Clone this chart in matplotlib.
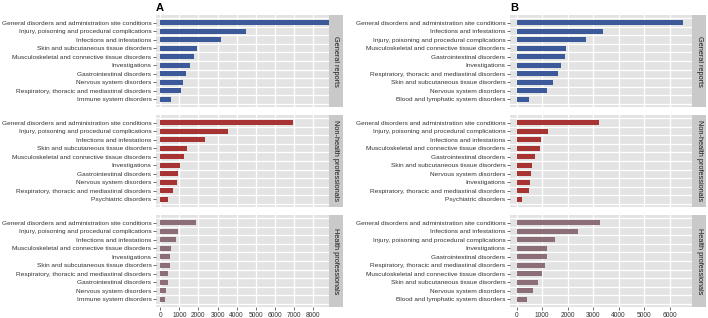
import matplotlib
matplotlib.use("Agg")
import matplotlib.pyplot as plt

plt.rcParams['font.family'] = ['Liberation Sans', 'DejaVu Sans']

# Panel A data (top to bottom in each facet)
a_gen_labels = ["General disorders and administration site conditions",
                "Injury, poisoning and procedural complications",
                "Infections and infestations",
                "Skin and subcutaneous tissue disorders",
                "Musculoskeletal and connective tissue disorders",
                "Investigations",
                "Gastrointestinal disorders",
                "Nervous system disorders",
                "Respiratory, thoracic and mediastinal disorders",
                "Immune system disorders"]
a_gen_values = [8840, 4480, 3190, 1930, 1790, 1570, 1330, 1190, 1070, 570]

a_non_labels = ["General disorders and administration site conditions",
                "Injury, poisoning and procedural complications",
                "Infections and infestations",
                "Skin and subcutaneous tissue disorders",
                "Musculoskeletal and connective tissue disorders",
                "Investigations",
                "Gastrointestinal disorders",
                "Nervous system disorders",
                "Respiratory, thoracic and mediastinal disorders",
                "Psychiatric disorders"]
a_non_values = [6930, 3550, 2340, 1400, 1220, 1050, 930, 900, 640, 400]

a_hp_labels = ["General disorders and administration site conditions",
               "Injury, poisoning and procedural complications",
               "Infections and infestations",
               "Musculoskeletal and connective tissue disorders",
               "Investigations",
               "Skin and subcutaneous tissue disorders",
               "Respiratory, thoracic and mediastinal disorders",
               "Gastrointestinal disorders",
               "Nervous system disorders",
               "Immune system disorders"]
a_hp_values = [1845, 930, 830, 570, 530, 520, 410, 395, 290, 260]

# Panel B data
b_gen_labels = ["General disorders and administration site conditions",
                "Infections and infestations",
                "Injury, poisoning and procedural complications",
                "Musculoskeletal and connective tissue disorders",
                "Gastrointestinal disorders",
                "Investigations",
                "Respiratory, thoracic and mediastinal disorders",
                "Skin and subcutaneous tissue disorders",
                "Nervous system disorders",
                "Blood and lymphatic system disorders"]
b_gen_values = [6510, 3380, 2740, 1920, 1910, 1730, 1610, 1430, 1195, 480]

b_non_labels = ["General disorders and administration site conditions",
                "Injury, poisoning and procedural complications",
                "Infections and infestations",
                "Musculoskeletal and connective tissue disorders",
                "Gastrointestinal disorders",
                "Skin and subcutaneous tissue disorders",
                "Nervous system disorders",
                "Investigations",
                "Respiratory, thoracic and mediastinal disorders",
                "Psychiatric disorders"]
b_non_values = [3230, 1230, 975, 935, 715, 600, 560, 520, 495, 220]

b_hp_labels = ["General disorders and administration site conditions",
               "Infections and infestations",
               "Injury, poisoning and procedural complications",
               "Investigations",
               "Gastrointestinal disorders",
               "Respiratory, thoracic and mediastinal disorders",
               "Musculoskeletal and connective tissue disorders",
               "Skin and subcutaneous tissue disorders",
               "Nervous system disorders",
               "Blood and lymphatic system disorders"]
b_hp_values = [3260, 2390, 1510, 1195, 1195, 1105, 990, 830, 625, 390]

facet_names = ["General reports", "Non-health professionals", "Health professionals"]
facet_colors = ["#3C5A99", "#A83333", "#8C6E77"]

W, H = 708, 318
fig = plt.figure(figsize=(W / 100, H / 100), dpi=100)

row_tops = [15, 115, 215]
row_h = 92


def draw_column(x0, x1, strip_w, xlim, xticks, data, title):
    for i, (labels, values) in enumerate(data):
        top = row_tops[i]
        ax = fig.add_axes([x0 / W, (H - top - row_h) / H, (x1 - x0) / W, row_h / H])
        ax.set_facecolor("#E3E3E3")
        for t in xticks:
            ax.axvline(t, color="white", lw=0.9, zorder=0)
        for k in range(len(labels) + 1):
            ax.axhline(k - 0.5, color="white", lw=0.9, zorder=0)
        pos = list(range(len(labels)))
        ax.barh(pos, values, height=0.58, color=facet_colors[i], zorder=2)
        ax.set_xlim(*xlim)
        ax.set_ylim(len(labels) - 0.1, -0.9)
        ax.set_yticks(pos)
        ax.set_yticklabels(labels, fontsize=4.65, color="#333333")
        ax.set_xticks(xticks)
        if i == 2:
            ax.set_xticklabels([str(t) for t in xticks], fontsize=4.8, color="#333333")
        else:
            ax.set_xticklabels([])
        ax.tick_params(length=2, width=0.5, color="#333333", pad=1.3)
        if i != 2:
            ax.tick_params(axis="x", length=0)
        for s in ax.spines.values():
            s.set_visible(False)
        # facet strip
        sax = fig.add_axes([x1 / W, (H - top - row_h) / H, strip_w / W, row_h / H])
        sax.set_facecolor("#C9C9C9")
        sax.set_xticks([])
        sax.set_yticks([])
        for s in sax.spines.values():
            s.set_visible(False)
        sax.text(0.5, 0.5, facet_names[i], rotation=-90, ha="center", va="center",
                 fontsize=5.3, color="#1A1A1A", transform=sax.transAxes)
    fig.text(x0 / W, 1 - 8 / H, title, fontsize=8, fontweight="bold",
             ha="left", va="center")


draw_column(156, 329, 14, (-225, 8840), list(range(0, 9000, 1000)),
            [(a_gen_labels, a_gen_values), (a_non_labels, a_non_values),
             (a_hp_labels, a_hp_values)], "A")
draw_column(510, 692, 14, (-260, 6880), list(range(0, 7000, 1000)),
            [(b_gen_labels, b_gen_values), (b_non_labels, b_non_values),
             (b_hp_labels, b_hp_values)], "B")

fig.savefig("out.png", dpi=100)
